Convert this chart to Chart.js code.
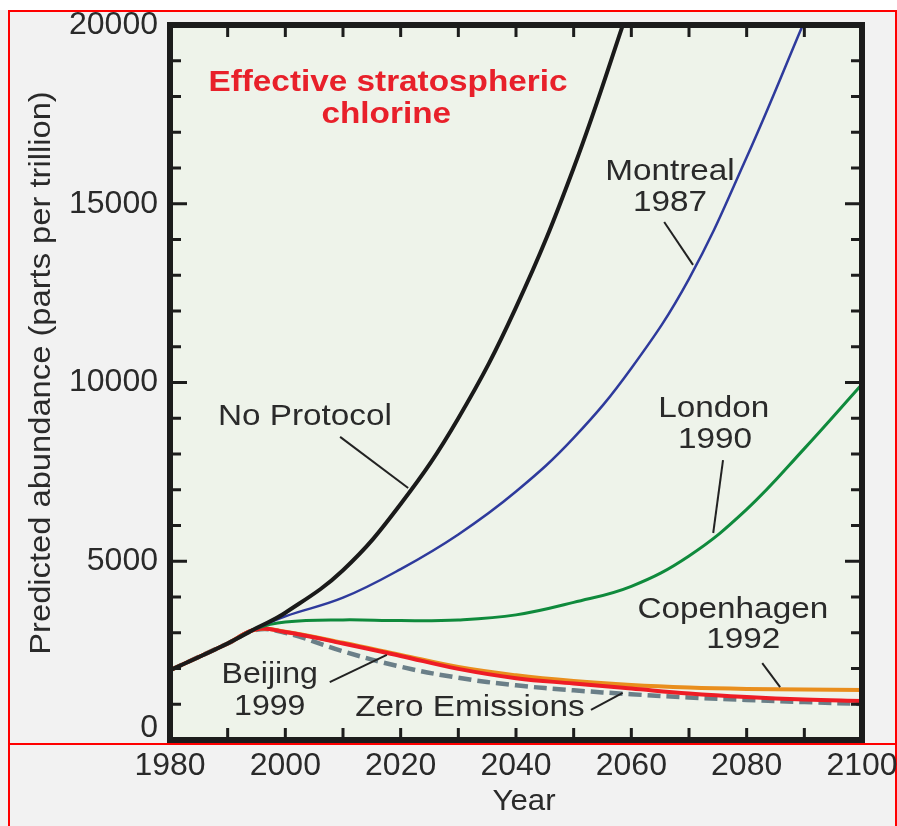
<!DOCTYPE html>
<html>
<head>
<meta charset="utf-8">
<script src="https://cdn.jsdelivr.net/npm/chart.js@4/dist/chart.umd.min.js"></script>
<style>
  html, body { margin: 0; padding: 0; background: #f2f2f2; overflow: hidden; }
  canvas { display: block; }
</style>
</head>
<body>
<canvas id="mycanvas" width="897" height="826"></canvas>
<script>
// years shared by every scenario
var years = [1980, 1990, 1995, 2000, 2010, 2020, 2030, 2040, 2050, 2060, 2070, 2080, 2090, 2100];

// effective stratospheric chlorine, parts per trillion
var noProtocol    = [1950, 2700, 3130, 3560, 4750, 6600, 9000, 12100, 16000, 20700, null, null, null, null];
var montreal1987  = [1950, 2700, 3120, 3460, 3980, 4780, 5750, 6950, 8450, 10400, 12900, 16300, 20100, null];
var london1990    = [1950, 2700, 3120, 3300, 3360, 3340, 3360, 3500, 3850, 4300, 5150, 6450, 8150, 9950];
var copenhagen1992 = [1950, 2700, 3100, 3030, 2720, 2380, 2040, 1810, 1650, 1540, 1470, 1430, 1410, 1400];
var beijing1999   = [1950, 2700, 3100, 3020, 2700, 2350, 1990, 1730, 1580, 1440, 1300, 1200, 1130, 1090];
var zeroEmissions = [1950, 2700, 3080, 3000, 2480, 2050, 1740, 1530, 1390, 1280, 1190, 1120, 1060, 1010];

var yTickLabels = [0, 5000, 10000, 15000, 20000];
var xTickLabels = [1980, 2000, 2020, 2040, 2060, 2080, 2100];

// curve labels, placed in data units (year, ppt)
var labels = [
	{ text: "No Protocol", at: [2003.4, 9050], line: [[2009.5, 8480], [2021.3, 7050]] },
	{ text: "Montreal", at: [2066.7, 15900] },
	{ text: "1987", at: [2066.7, 15030], line: [[2065.7, 14490], [2070.7, 13290]] },
	{ text: "London", at: [2074.3, 9270] },
	{ text: "1990", at: [2074.5, 8400], line: [[2075.9, 7830], [2074.2, 5790]] },
	{ text: "Copenhagen", at: [2077.6, 3640] },
	{ text: "1992", at: [2079.4, 2800], line: [[2082.7, 2150], [2085.8, 1480]] },
	{ text: "Beijing", at: [1997.3, 1830], wide: 1.07 },
	{ text: "1999", at: [1997.3, 930], wide: 1.07, line: [[2007.7, 1620], [2017.6, 2380]] },
	{ text: "Zero Emissions", at: [2032.0, 900], line: [[2053.0, 840], [2058.5, 1315]] }
];
var heading = ["Effective stratospheric", "chlorine"];
var xTitle = "Year";
var yTitle = "Predicted abundance (parts per trillion)";

function pts(vals) {
	var out = [];
	for (var i in years) {
		out.push({ x: years[i], y: vals[i] });
	}
	return out;
}

var FONT = '"Liberation Sans", Arial, Helvetica, sans-serif';

// text drawn a little wider than the font, like the original lettering
function wideText(c, text, x, y, stretch, rot) {
	c.save();
	c.translate(x, y);
	if (rot) c.rotate(rot);
	c.scale(stretch, 1);
	c.fillText(text, 0, 0);
	c.restore();
}

var framePlugin = {
	id: "frame",
	beforeDraw: function(chart) {
		var c = chart.ctx, a = chart.chartArea;
		c.save();
		c.fillStyle = "#ffffff";
		c.fillRect(0, 0, chart.width, 10);
		c.fillStyle = "#f2f2f2";
		c.fillRect(0, 10, chart.width, chart.height - 10);
		c.strokeStyle = "#ff0000";
		c.lineWidth = 2;
		c.beginPath();
		c.moveTo(8, 11); c.lineTo(897, 11);
		c.moveTo(9, 10); c.lineTo(9, 826);
		c.moveTo(896, 10); c.lineTo(896, 826);
		c.moveTo(8, 744); c.lineTo(897, 744);
		c.stroke();
		c.fillStyle = "#eef3ea";
		c.fillRect(a.left, a.top, a.right - a.left, a.bottom - a.top);
		c.restore();
	},
	afterDatasetsDraw: function(chart) {
		var c = chart.ctx, a = chart.chartArea;
		var xs = chart.scales.x, ys = chart.scales.y;
		c.save();
		c.strokeStyle = "#1c1c1c";
		c.lineWidth = 3;
		c.beginPath();
		for (var yr = 1990; yr < 2100; yr += 10) {
			var px = xs.getPixelForValue(yr);
			c.moveTo(px, a.bottom); c.lineTo(px, a.bottom - 12);
			c.moveTo(px, a.top); c.lineTo(px, a.top + 12);
		}
		for (var v = 1000; v < 20000; v += 1000) {
			var py = ys.getPixelForValue(v);
			var len = (v % 5000 === 0) ? 17 : 11;
			c.moveTo(a.left, py); c.lineTo(a.left + len, py);
			c.moveTo(a.right, py); c.lineTo(a.right - len, py);
		}
		c.stroke();
		c.lineWidth = 6;
		c.strokeRect(a.left, a.top, a.right - a.left, a.bottom - a.top);

		c.textAlign = "center";
		c.textBaseline = "middle";

		// heading
		c.fillStyle = "#e8202a";
		c.font = "bold 30px " + FONT;
		wideText(c, heading[0], xs.getPixelForValue(2017.8), ys.getPixelForValue(18380), 1.11);
		wideText(c, heading[1], xs.getPixelForValue(2017.5), ys.getPixelForValue(17480), 1.11);

		// curve labels and leaders
		c.fillStyle = "#2a2a2a";
		c.font = "30px " + FONT;
		c.strokeStyle = "#222222";
		c.lineWidth = 2;
		for (var i in labels) {
			var L = labels[i];
			wideText(c, L.text, xs.getPixelForValue(L.at[0]), ys.getPixelForValue(L.at[1]), L.wide || 1.11);
			if (L.line) {
				c.beginPath();
				c.moveTo(xs.getPixelForValue(L.line[0][0]), ys.getPixelForValue(L.line[0][1]));
				c.lineTo(xs.getPixelForValue(L.line[1][0]), ys.getPixelForValue(L.line[1][1]));
				c.stroke();
			}
		}

		// zero label sits a bit above the axis, as in the original
		c.font = "32px " + FONT;
		c.textAlign = "right";
		c.fillText(String(yTickLabels[0]), a.left - 12, ys.getPixelForValue(0) - 12);

		// axis titles
		c.textAlign = "center";
		c.font = "30px " + FONT;
		wideText(c, xTitle, 524, 802, 1.04);
		wideText(c, yTitle, 42, 373, 1.09, -Math.PI / 2);
		c.restore();
	}
};

var chartdata = {
	datasets: [
		{ label: "No Protocol", data: pts(noProtocol), borderColor: "#1a1a1a", borderWidth: 4 },
		{ label: "Montreal 1987", data: pts(montreal1987), borderColor: "#2e3a9c", borderWidth: 2.5 },
		{ label: "London 1990", data: pts(london1990), borderColor: "#0f8a3c", borderWidth: 3 },
		{ label: "Beijing 1999", data: pts(beijing1999), borderColor: "#ee1c25", borderWidth: 4 },
		{ label: "Copenhagen 1992", data: pts(copenhagen1992), borderColor: "#e98e1d", borderWidth: 4 },
		{ label: "Zero Emissions", data: pts(zeroEmissions), borderColor: "#6a7f88", borderWidth: 4.5, borderDash: [13, 6] }
	]
};

var ctx = document.getElementById("mycanvas");

var LineGraph = new Chart(ctx, {
	type: "line",
	data: chartdata,
	plugins: [framePlugin],
	options: {
		responsive: false,
		devicePixelRatio: 1,
		animation: false,
		layout: { padding: { left: 0, top: 25, right: 35, bottom: 0 } },
		elements: {
			point: { radius: 0, hoverRadius: 0 },
			line: { tension: 0.4, fill: false }
		},
		plugins: { legend: { display: false }, tooltip: { enabled: false } },
		scales: {
			x: {
				type: "linear",
				min: 1980, max: 2100,
				grid: { display: false, drawTicks: false },
				border: { display: false },
				afterBuildTicks: function(s) { s.ticks = xTickLabels.map(function(v) { return { value: v }; }); },
				ticks: { padding: 7, color: "#2a2a2a", font: { family: FONT, size: 32 }, callback: function(v) { return String(v); }, maxRotation: 0, autoSkip: false },
				afterFit: function(s) { s.height = 86; s.paddingLeft = 0; s.paddingRight = 0; }
			},
			y: {
				min: 0, max: 20000,
				grid: { display: false, drawTicks: false },
				border: { display: false },
				afterBuildTicks: function(s) { s.ticks = yTickLabels.map(function(v) { return { value: v }; }); },
				ticks: { padding: 12, color: "#2a2a2a", font: { family: FONT, size: 32 }, callback: function(v) { return v === 0 ? "" : String(v); } },
				afterFit: function(s) { s.width = 170; s.paddingTop = 0; s.paddingBottom = 0; }
			}
		}
	}
});
</script>
</body>
</html>
